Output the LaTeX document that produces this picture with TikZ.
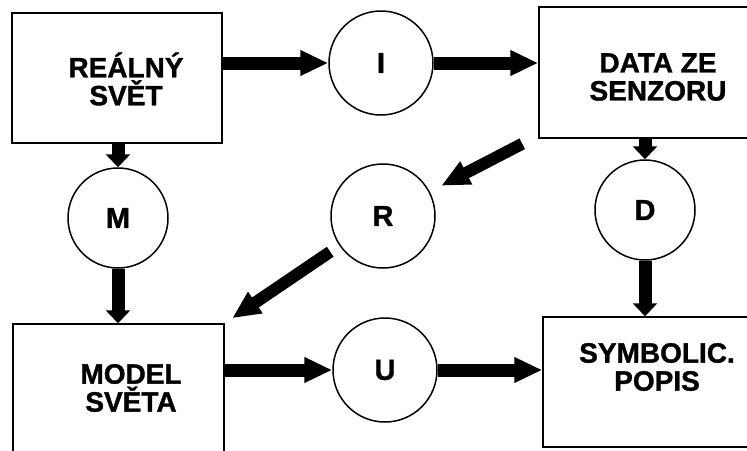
\documentclass[tikz,border=0pt]{standalone}
\usepackage{fontspec}
\setmainfont[BoldFeatures={FakeBold=1.2}]{Liberation Sans}
\usetikzlibrary{arrows.meta,calc}
\tikzset{
  box/.style={draw, line width=1.5pt, rectangle, inner sep=0pt},
  circ/.style={draw, line width=1.5pt, circle, inner sep=0pt, minimum size=104pt,
    font=\fontsize{29}{30}\selectfont\bfseries},
  lbl/.style={align=center, inner sep=0pt, font=\fontsize{28}{28}\selectfont\bfseries},
  flow/.style={line width=13pt, -{Triangle[length=28pt,width=24pt]}},
  vflow/.style={line width=13pt, -{Triangle[length=13pt,width=24pt]}},
}
\begin{document}
\begin{tikzpicture}[x=1pt,y=-1pt]
\useasboundingbox (0,0) rectangle (747,450);
% boxes
\node[box, minimum width=210pt, minimum height=130pt] (rs) at (117,78) {};
\node[box, minimum width=213pt, minimum height=131pt] (data) at (645.5,72.5) {};
\node[box, minimum width=211pt, minimum height=136pt] (model) at (118.5,392) {};
\node[box, minimum width=209pt, minimum height=130pt] (symb) at (647.5,382) {};
% labels
\node[lbl] at (126,79) {REÁLNÝ\\SVĚT};
\node[lbl] at (658,77) {DATA ZE\\SENZORU};
\node[lbl] at (131,388) {MODEL\\SVĚTA};
\node[lbl] at (657,367) {SYMBOLIC.\\POPIS};
% circles
\node[circ] (i) at (381,63) {I};
\node[circ, minimum size=100pt] (m) at (118,218) {M};
\node[circ] (r) at (383,216) {R};
\node[circ, minimum size=100pt] (d) at (645,210) {D};
\node[circ] (u) at (385,370) {U};
% connectors
\draw[flow] (rs.east |- i.west) -- (i.west);
\draw[flow] (i.east) -- (data.west |- i.east);
\draw[vflow] (rs.south -| m) -- (m.north);
\draw[vflow] (m.south) -- (model.north -| m);
\draw[vflow] (data.south -| d) -- (d.north);
\draw[vflow] (d.south) -- (symb.north -| d);
\draw[flow] (model.east |- u.west) -- (u.west);
\draw[flow] (u.east) -- (symb.west |- u.east);
\coordinate (dtail) at ($(data.south west)+(-16,5)$);
\draw[flow, line width=12pt, shorten >=13pt] (dtail) -- (r);
\draw[flow, line width=12pt, shorten <=11pt, shorten >=9pt] (r) -- (model.north east);
\end{tikzpicture}
\end{document}
